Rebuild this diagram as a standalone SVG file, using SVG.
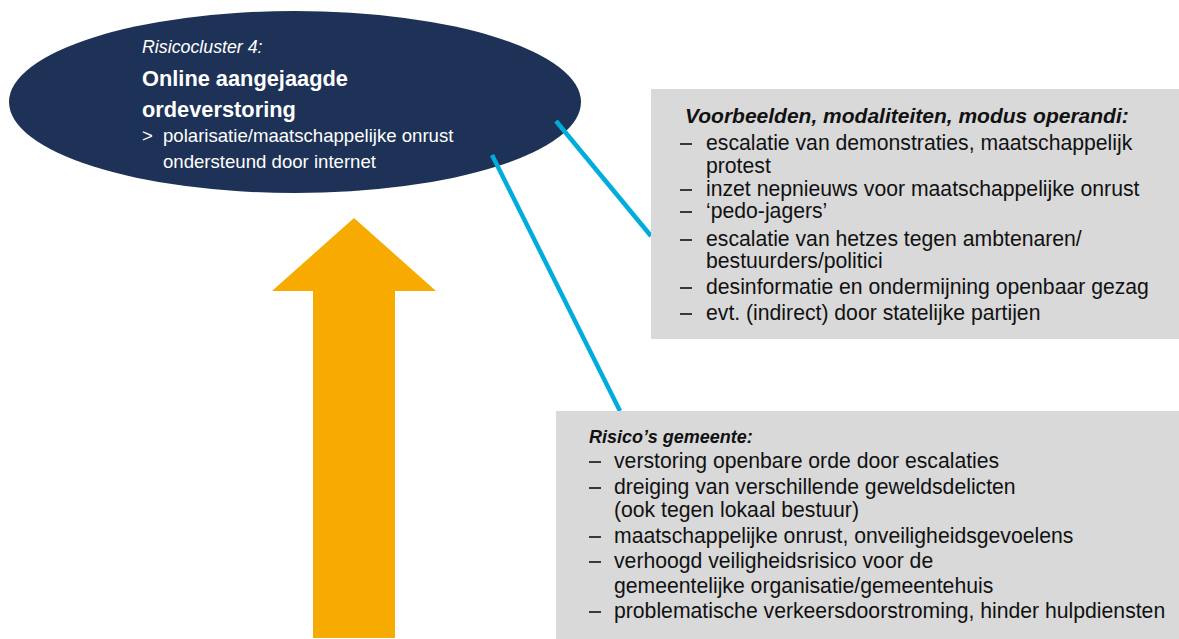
<svg xmlns="http://www.w3.org/2000/svg" width="1179" height="639" viewBox="0 0 1179 639">
<style>
  text { font-family: "Liberation Sans", Arial, sans-serif; }
  .w { fill: #ffffff; }
  .k { fill: #111111; }
  .box { fill: #d9d9d9; }
  .conn { stroke: #00acdc; stroke-width: 4.5; fill: none; }
  .bt { font-size: 21.2px; }
  .sub { font-size: 18.6px; }
  .dash { stroke: #111111; stroke-width: 1.6; }
</style>
<rect width="1179" height="639" fill="#ffffff"/>
<g id="arrow">
  <polygon points="354,218 436,291 395,291 395,638 313,638 313,291 272,291" fill="#f7aa00"/>
</g>
<g id="cluster">
  <ellipse cx="295" cy="102" rx="286" ry="91" fill="#1d3256"/>
  <text x="142" y="53" class="w" font-size="17.8" font-style="italic">Risicocluster 4:</text>
  <text x="142" y="86" class="w" font-size="21.8" font-weight="bold">Online aangejaagde</text>
  <text x="142" y="117" class="w" font-size="21.8" font-weight="bold">ordeverstoring</text>
  <text x="142" y="142" class="w sub">&gt;</text>
  <text x="163" y="142" class="w sub">polarisatie/maatschappelijke onrust</text>
  <text x="163" y="168" class="w sub">ondersteund door internet</text>
</g>
<g id="connectors">
  <line class="conn" x1="556" y1="121" x2="651" y2="236"/>
  <line class="conn" x1="492" y1="155" x2="620" y2="411"/>
</g>
<g id="voorbeelden">
  <rect class="box" x="651" y="89" width="528" height="250"/>
  <text x="685" y="123" class="k" font-size="21" font-weight="bold" font-style="italic">Voorbeelden, modaliteiten, modus operandi:</text>
  <g class="dash">
    <line x1="680" y1="144" x2="692" y2="144"/>
    <line x1="680" y1="190" x2="692" y2="190"/>
    <line x1="680" y1="212" x2="692" y2="212"/>
    <line x1="680" y1="240" x2="692" y2="240"/>
    <line x1="680" y1="288" x2="692" y2="288"/>
    <line x1="680" y1="314" x2="692" y2="314"/>
  </g>
  <text x="706" y="150" class="k bt">escalatie van demonstraties, maatschappelijk</text>
  <text x="706" y="173" class="k bt">protest</text>
  <text x="706" y="196" class="k bt">inzet nepnieuws voor maatschappelijke onrust</text>
  <text x="706" y="218" class="k bt">‘pedo-jagers’</text>
  <text x="706" y="246" class="k bt">escalatie van hetzes tegen ambtenaren/</text>
  <text x="706" y="268" class="k bt">bestuurders/politici</text>
  <text x="706" y="294" class="k bt">desinformatie en ondermijning openbaar gezag</text>
  <text x="706" y="320" class="k bt">evt. (indirect) door statelijke partijen</text>
</g>
<g id="risicos">
  <rect class="box" x="556" y="411" width="623" height="228"/>
  <text x="589" y="443" class="k" font-size="18" font-weight="bold" font-style="italic">Risico’s gemeente:</text>
  <g class="dash">
    <line x1="589" y1="462" x2="601" y2="462"/>
    <line x1="589" y1="488" x2="601" y2="488"/>
    <line x1="589" y1="537" x2="601" y2="537"/>
    <line x1="589" y1="562" x2="601" y2="562"/>
    <line x1="589" y1="612" x2="601" y2="612"/>
  </g>
  <text x="614" y="468" class="k bt">verstoring openbare orde door escalaties</text>
  <text x="614" y="494" class="k bt">dreiging van verschillende geweldsdelicten</text>
  <text x="614" y="517" class="k bt">(ook tegen lokaal bestuur)</text>
  <text x="614" y="543" class="k bt">maatschappelijke onrust, onveiligheidsgevoelens</text>
  <text x="614" y="568" class="k bt">verhoogd veiligheidsrisico voor de</text>
  <text x="614" y="593" class="k bt">gemeentelijke organisatie/gemeentehuis</text>
  <text x="614" y="618" class="k bt">problematische verkeersdoorstroming, hinder hulpdiensten</text>
</g>
</svg>
